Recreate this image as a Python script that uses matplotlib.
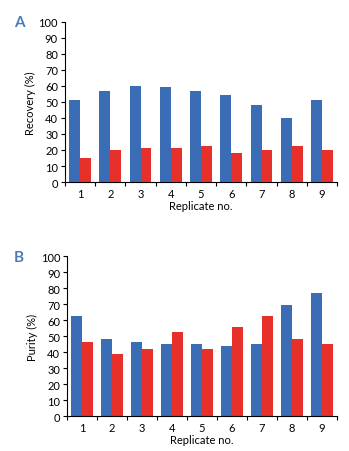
import numpy as np
import matplotlib.pyplot as plt

replicates = ["1", "2", "3", "4", "5", "6", "7", "8", "9"]
recovery_blue = [51, 56.5, 60, 59, 57, 54.5, 48, 40, 51]
recovery_red = [15, 20, 21, 21, 22.5, 18, 20, 22.5, 20]
purity_blue = [62.5, 48.5, 46.5, 45, 45, 44, 45, 69.5, 77]
purity_red = [46.5, 39, 42, 52.5, 42, 56, 62.5, 48, 45]

blue = "#3a6db5"
red = "#e8302a"
plt.rcParams["font.family"] = ["Lato", "DejaVu Sans"]

fig = plt.figure(figsize=(3.49, 4.52), dpi=100)
ax_a = fig.add_axes([0.186, 0.595, 0.780, 0.355])
ax_b = fig.add_axes([0.192, 0.077, 0.774, 0.354])


def draw_panel(ax, vals_blue, vals_red, ylabel):
    x = np.arange(1, len(replicates) + 1)
    w = 0.36
    ax.bar(x - w / 2, vals_blue, width=w, color=blue)
    ax.bar(x + w / 2, vals_red, width=w, color=red)
    ax.set_xlim(0.5, len(replicates) + 0.5)
    ax.set_ylim(0, 100)
    ax.set_yticks(range(0, 101, 10))
    ax.set_xticks(x)
    ax.set_xticklabels(replicates)
    ax.set_xticks(np.arange(0.5, len(replicates) + 1, 1), minor=True)
    ax.tick_params(axis="x", which="major", length=0, labelsize=8, pad=4)
    ax.tick_params(axis="x", which="minor", length=3, width=0.8)
    ax.tick_params(axis="y", length=3, width=0.8, labelsize=8, pad=2)
    for s in ["top", "right"]:
        ax.spines[s].set_visible(False)
    for s in ["left", "bottom"]:
        ax.spines[s].set_linewidth(0.8)
    ax.set_xlabel("Replicate no.", fontsize=8, labelpad=1)
    ax.set_ylabel(ylabel, fontsize=8, labelpad=2)


draw_panel(ax_a, recovery_blue, recovery_red, "Recovery (%)")
draw_panel(ax_b, purity_blue, purity_red, "Purity (%)")

fig.text(0.04, 0.95, "A", fontsize=11, color="#4f7ab8", fontweight="bold", va="center")
fig.text(0.04, 0.43, "B", fontsize=11, color="#4f7ab8", fontweight="bold", va="center")

fig.savefig("out.png", dpi=100)
